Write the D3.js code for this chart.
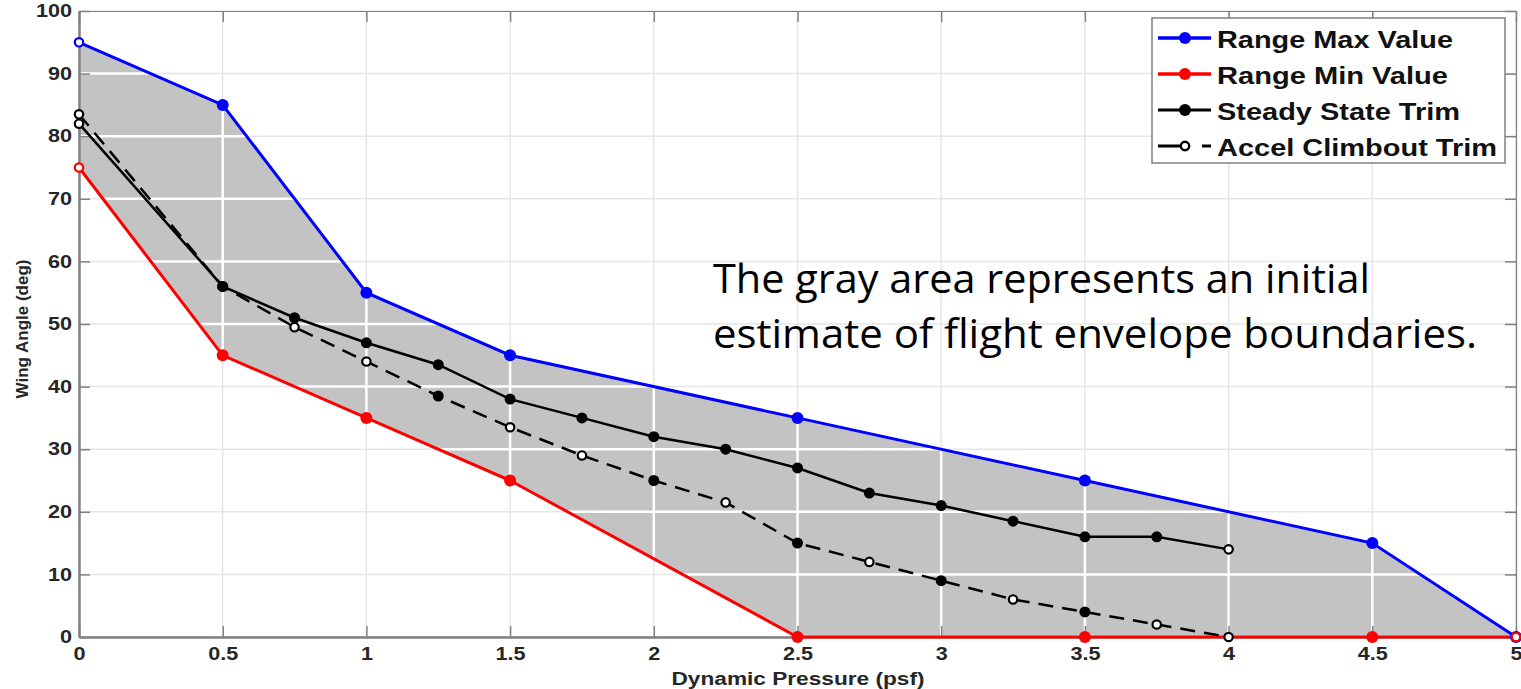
<!DOCTYPE html>
<html>
<head>
<meta charset="utf-8">
<script src="https://cdn.jsdelivr.net/npm/d3@7"></script>
<style>
  body { margin: 0; background: #fff; }
  .tick text { font-family: "Liberation Sans", Arial, sans-serif; font-weight: bold; fill: #262626; font-size: 18px; }
</style>
</head>
<body>
<svg id="chart"></svg>
<script>
// ---- data ----
const xTicks = [0, 0.5, 1, 1.5, 2, 2.5, 3, 3.5, 4, 4.5, 5];
const yTicks = [0, 10, 20, 30, 40, 50, 60, 70, 80, 90, 100];

const maxX = [0, 0.5, 1, 1.5, 2.5, 3.5, 4.5, 5];
const maxY = [95, 85, 55, 45, 35, 25, 15, 0];

const minX = [0, 0.5, 1, 1.5, 2.5, 3.5, 4.5, 5];
const minY = [75, 45, 35, 25, 0, 0, 0, 0];

const steadyX = [0, 0.5, 0.75, 1, 1.25, 1.5, 1.75, 2, 2.25, 2.5, 2.75, 3, 3.25, 3.5, 3.75, 4];
const steadyY = [82, 56, 51, 47, 43.5, 38, 35, 32, 30, 27, 23, 21, 18.5, 16, 16, 14];

const accelX = [0, 0.5, 0.75, 1, 1.25, 1.5, 1.75, 2, 2.25, 2.5, 2.75, 3, 3.25, 3.5, 3.75, 4];
const accelY = [83.5, 56, 49.5, 44, 38.5, 33.5, 29, 25, 21.5, 15, 12, 9, 6, 4, 2, 0];

const legendLabels = ["Range Max Value", "Range Min Value", "Steady State Trim", "Accel Climbout Trim"];
const noteLines = ["The gray area represents an initial", "estimate of flight envelope boundaries."];

// ---- layout ----
const W = 1521, H = 689;
const plot = { left: 79, right: 1516, top: 11, bottom: 637 };

const svg = d3.select("#chart").attr("width", W).attr("height", H);

const x = d3.scaleLinear().domain([0, 5]).range([plot.left, plot.right]);
const y = d3.scaleLinear().domain([0, 100]).range([plot.bottom, plot.top]);

const zip = (xs, ys) => xs.map((v, i) => ({ x: v, y: ys[i], i: i }));
const maxPts = zip(maxX, maxY);
const minPts = zip(minX, minY);
const steadyPts = zip(steadyX, steadyY);
const accelPts = zip(accelX, accelY);

const series = [
  { pts: maxPts, color: "#0000ff", width: 3, dash: null, r: 6, open: [0] },
  { pts: minPts, color: "#ff0000", width: 3, dash: null, r: 6, open: [0, 7] },
  { pts: steadyPts, color: "#000", width: 2.5, dash: null, r: 5.5, open: [0, 15] },
  { pts: accelPts, color: "#000", width: 2.5, dash: "15,9", r: 5.5, open: [0, 2, 3, 5, 6, 8, 10, 12, 14, 15] }
];

// the source picture is stretched sideways, so widen text to match
function stretch(sel, k) {
  sel.each(function() {
    const w = this.getComputedTextLength();
    d3.select(this).attr("textLength", w * k).attr("lengthAdjust", "spacingAndGlyphs");
  });
}

// light grid
const grid = svg.append("g");
function drawGrid(g, color, w) {
  g.selectAll(".vx").data(xTicks).enter().append("line")
    .attr("x1", d => x(d)).attr("x2", d => x(d))
    .attr("y1", plot.top).attr("y2", plot.bottom)
    .attr("stroke", color).attr("stroke-width", w);
  g.selectAll(".hy").data(yTicks).enter().append("line")
    .attr("x1", plot.left).attr("x2", plot.right)
    .attr("y1", d => y(d)).attr("y2", d => y(d))
    .attr("stroke", color).attr("stroke-width", w);
}
drawGrid(grid, "#e6e6e6", 1.5);

// envelope polygon
const envelope = maxPts.concat(minPts.slice().reverse());
const polyLine = d3.line().x(d => x(d.x)).y(d => y(d.y));

svg.append("clipPath").attr("id", "env")
  .append("path").attr("d", polyLine(envelope) + "Z");

svg.append("path")
  .attr("d", polyLine(envelope) + "Z")
  .attr("fill", "#c3c3c3");

const whiteGrid = svg.append("g").attr("clip-path", "url(#env)");
drawGrid(whiteGrid, "#ffffff", 2.5);

// axes
const axisColor = "#808080";
const axBottom = svg.append("g").attr("transform", `translate(0,${plot.bottom})`)
  .call(d3.axisBottom(x).tickValues(xTicks).tickFormat(d3.format("")).tickSize(-11).tickSizeOuter(0).tickPadding(10));
const axLeft = svg.append("g").attr("transform", `translate(${plot.left},0)`)
  .call(d3.axisLeft(y).tickValues(yTicks).tickSize(-11).tickSizeOuter(0).tickPadding(7));
const axTop = svg.append("g").attr("transform", `translate(0,${plot.top})`)
  .call(d3.axisTop(x).tickValues(xTicks).tickFormat("").tickSize(-11).tickSizeOuter(0));
const axRight = svg.append("g").attr("transform", `translate(${plot.right},0)`)
  .call(d3.axisRight(y).tickValues(yTicks).tickFormat("").tickSize(-11).tickSizeOuter(0));

[axBottom, axLeft, axTop, axRight].forEach(g => {
  g.selectAll("line").attr("stroke", axisColor).attr("stroke-width", 1.5);
  g.select(".domain").attr("stroke", axisColor);
});
axBottom.select(".domain").attr("stroke-width", 2.5);
axLeft.select(".domain").attr("stroke-width", 2.5);
axTop.select(".domain").attr("stroke-width", 1.2);
axRight.select(".domain").attr("stroke-width", 1.2);
stretch(axBottom.selectAll("text"), 1.2);
stretch(axLeft.selectAll("text"), 1.2);

// axis titles
svg.append("text")
  .attr("x", 798).attr("y", 685)
  .attr("text-anchor", "middle")
  .attr("font-family", "Liberation Sans, Arial, sans-serif")
  .attr("font-weight", "bold").attr("font-size", 18).attr("fill", "#262626")
  .attr("textLength", 253).attr("lengthAdjust", "spacingAndGlyphs")
  .text("Dynamic Pressure (psf)");

svg.append("text")
  .attr("transform", `translate(28,329) rotate(-90)`)
  .attr("text-anchor", "middle")
  .attr("font-family", "Liberation Sans, Arial, sans-serif")
  .attr("font-weight", "bold").attr("font-size", 17).attr("fill", "#262626")
  .text("Wing Angle (deg)");

// lines and markers
series.forEach(s => {
  svg.append("path")
    .datum(s.pts)
    .attr("d", polyLine)
    .attr("fill", "none")
    .attr("stroke", s.color)
    .attr("stroke-width", s.width)
    .attr("stroke-dasharray", s.dash);
});
series.forEach(s => {
  svg.selectAll(null).data(s.pts).enter().append("circle")
    .attr("cx", d => x(d.x)).attr("cy", d => y(d.y))
    .attr("r", d => s.open.includes(d.i) ? 4.2 : s.r)
    .attr("fill", d => s.open.includes(d.i) ? "#fff" : s.color)
    .attr("stroke", s.color)
    .attr("stroke-width", d => s.open.includes(d.i) ? 2.2 : 0);
});

// annotation
const note = svg.append("text")
  .attr("font-family", "Open Sans, Noto Sans, sans-serif")
  .attr("font-size", 41).attr("fill", "#000");
note.selectAll("tspan").data(noteLines).enter().append("tspan")
  .attr("x", 713).attr("y", (d, i) => 293 + i * 55)
  .attr("textLength", (d, i) => i === 0 ? 657 : 764)
  .attr("lengthAdjust", "spacingAndGlyphs")
  .text(d => d);

// legend
const legend = svg.append("g").attr("class", "legend");
legend.append("rect")
  .attr("x", 1152).attr("y", 18).attr("width", 353).attr("height", 145)
  .attr("fill", "#fff").attr("stroke", "#808080").attr("stroke-width", 1.5);

const items = legend.selectAll(".legend-item").data(legendLabels).enter().append("g")
  .attr("class", "legend-item")
  .attr("transform", (d, i) => `translate(0,${38 + i * 36})`);

items.append("line")
  .attr("x1", 1158).attr("x2", 1211).attr("y1", 0).attr("y2", 0)
  .attr("stroke", (d, i) => series[i].color)
  .attr("stroke-width", (d, i) => series[i].width + 0.5)
  .attr("stroke-dasharray", (d, i) => i === 3 ? "22,22,9" : null);

items.append("circle")
  .attr("cx", 1185).attr("cy", 0)
  .attr("r", (d, i) => i === 3 ? 4.2 : 6)
  .attr("fill", (d, i) => i === 3 ? "#fff" : series[i].color)
  .attr("stroke", (d, i) => series[i].color)
  .attr("stroke-width", (d, i) => i === 3 ? 2.4 : 0);

items.append("text")
  .attr("x", 1217).attr("y", 10)
  .attr("font-family", "Liberation Sans, Arial, sans-serif")
  .attr("font-weight", "bold").attr("font-size", 23).attr("fill", "#111")
  .attr("textLength", (d, i) => [236, 231, 243, 280][i])
  .attr("lengthAdjust", "spacingAndGlyphs")
  .text(d => d);
</script>
</body>
</html>
